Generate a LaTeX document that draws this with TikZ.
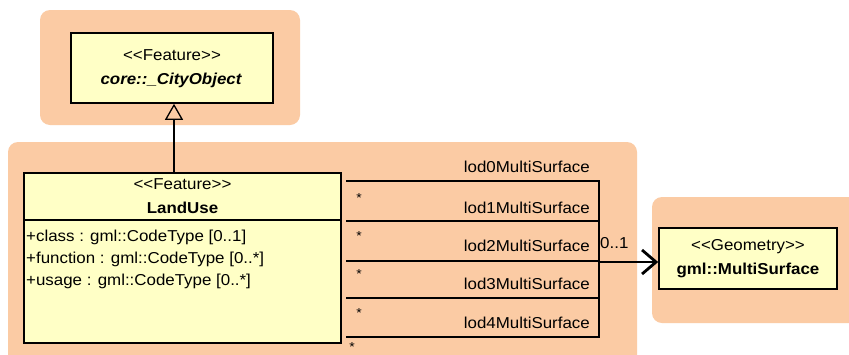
\documentclass[tikz,border=0pt]{standalone}
\usepackage{fontspec}
\setmainfont{Liberation Sans}[FakeStretch=1.07]
\usetikzlibrary{arrows.meta}
\definecolor{pkgbg}{HTML}{FBCBA4}
\definecolor{clsfill}{HTML}{FFFFC6}
\tikzset{
  pkg/.style={fill=pkgbg, draw=none, rounded corners=10pt},
  cls/.style={draw=black, line width=1.6pt, fill=clsfill, inner sep=0pt},
  txt/.style={inner sep=0pt, font=\fontsize{15.8}{18}\selectfont},
  star/.style={inner sep=0pt, font=\fontsize{13}{14}\selectfont},
  assoc/.style={draw=black, line width=1.3pt},
  gen/.style={draw=black, line width=1.3pt, -{Triangle[open, width=18pt, length=16pt, line width=1.3pt]}},
  nav/.style={draw=black, line width=2.8pt, -{Straight Barb[length=14pt, width=24pt, line width=2.8pt]}},
}
\begin{document}
\begin{tikzpicture}[x=1pt, y=-1pt]
\useasboundingbox (0,0) rectangle (849,354);
\fill[white] (0,0) rectangle (849,354);
% package backgrounds
\path[pkg] (40,10) rectangle (300,125);
\path[pkg] (8,142) rectangle (637,370);
\path[pkg] (652,197) rectangle (865,323);
% classes
\node[cls, minimum width=202pt, minimum height=70pt] (city) at (172,68) {};
\node[txt] (cityst) at (172,55) {{<}{<}Feature{>}{>}};
\node[txt, font=\fontsize{15.8}{18}\selectfont\bfseries\itshape] (cityname) at (171,80) {core::\_CityObject};

\node[cls, minimum width=317pt, minimum height=170pt] (land) at (182.5,258) {};
\coordinate (sepL) at (24,220);
\coordinate (sepR) at (341,220);
\draw[line width=1.6pt] (sepL) -- (sepR);
\node[txt] (landst) at (182.5,184) {{<}{<}Feature{>}{>}};
\node[txt, font=\fontsize{15.8}{18}\selectfont\bfseries] (landname) at (182.5,208) {LandUse};
\node[txt, anchor=west] (a1) at (26,237) {+class : gml::CodeType [0..1]};
\node[txt, anchor=west] (a2) at (26,259) {+function : gml::CodeType [0..*]};
\node[txt, anchor=west] (a3) at (26,281) {+usage : gml::CodeType [0..*]};

\node[cls, minimum width=178pt, minimum height=61pt] (ms) at (748,258.5) {};
\node[txt] (msst) at (748,247) {{<}{<}Geometry{>}{>}};
\node[txt, font=\fontsize{15.8}{18}\selectfont\bfseries] (msname) at (748,270) {gml::MultiSurface};

% generalization
\coordinate (genfoot) at (174,173);
\draw[gen] (genfoot) -- (city.south -| genfoot);

% associations
\coordinate (s0) at (346,181);
\coordinate (s1) at (346,221);
\coordinate (s2) at (346,261);
\coordinate (s3) at (346,298);
\coordinate (s4) at (346,337);
\coordinate (v0) at (599,181);
\coordinate (v4) at (599,337);
\coordinate (j) at (599,262);
\draw[assoc] (s0) -- (v0) -- (v4) -- (s4);
\draw[assoc] (s1) -- (s1 -| v0);
\draw[assoc] (s2) -- (s2 -| v0);
\draw[assoc] (s3) -- (s3 -| v0);
\draw[nav] (j) -- (ms.west |- j);

\node[txt, anchor=east] (l0) at (590,167) {lod0MultiSurface};
\node[txt, anchor=east] (l1) at (590,208) {lod1MultiSurface};
\node[txt, anchor=east] (l2) at (590,246) {lod2MultiSurface};
\node[txt, anchor=east] (l3) at (590,284) {lod3MultiSurface};
\node[txt, anchor=east] (l4) at (590,323) {lod4MultiSurface};
\node[txt, anchor=west] (m) at (600,243) {0..1};

\node[star] (st0) at (359,198) {*};
\node[star] (st1) at (359,236) {*};
\node[star] (st2) at (359,274) {*};
\node[star] (st3) at (359,313) {*};
\node[star] (st4) at (352,347) {*};
\end{tikzpicture}
\end{document}
